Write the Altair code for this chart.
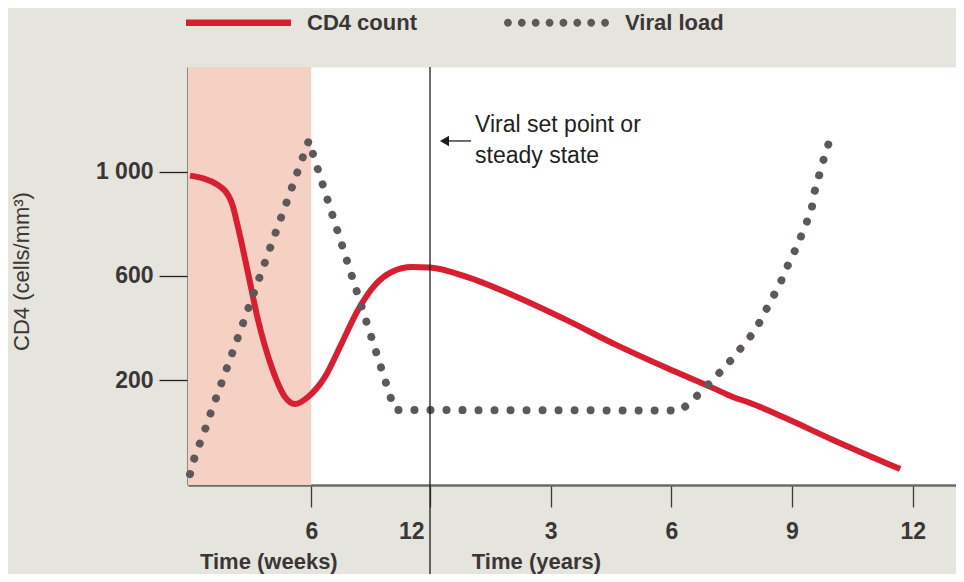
import altair as alt
import pandas as pd

# ---------------- data ----------------
# CD4 count: first phase in weeks, later phase in years
cd4_weeks = [0.10, 1.46, 2.13, 2.43, 2.92, 3.41, 4.07, 4.72, 5.21, 5.84, 6.69, 7.54, 8.36, 9.22, 10.06, 11.08, 12.0]
cd4_weeks_val = [985, 949, 880, 788, 611, 430, 250, 135, 108, 135, 212, 342, 469, 565, 615, 634, 632]
cd4_years = [0.91, 2.16, 3.40, 4.64, 5.89, 7.04, 7.53, 7.96, 8.78, 10.02, 11.69]
cd4_years_val = [596, 519, 430, 334, 246, 169, 135, 112, 58, -30, -142]

# Viral load (drawn on the same illustrative scale)
viral_weeks = [0.10, 0.31, 0.58, 0.86, 1.12, 5.88, 6.10, 9.79, 10.04, 10.25]
viral_weeks_val = [-161, -100, -42, 17, 77, 1120, 1064, 185, 126, 85]
viral_years = [6.23, 6.53, 6.84, 7.13, 7.42, 7.69, 7.96, 8.18, 8.36, 8.55, 8.73, 8.89,
               9.06, 9.22, 9.37, 9.49, 9.55, 9.65, 9.75, 9.86, 9.97]
viral_years_val = [83, 123, 170, 217, 265, 315, 366, 418, 471, 526, 581, 638,
                   693, 750, 808, 859, 917, 972, 1029, 1084, 1137]

series_names = ["CD4 count", "Viral load"]
tick_weeks = [6, 12]
tick_years = [3, 6, 9, 12]
y_ticks = [200, 600, 1000]
shade_weeks = [0, 6]          # acute infection phase
set_point_weeks = 12          # vertical marker
annot_text = "Viral set point or\nsteady state"
annot_years = 1.12
annot_val = 1152
arrow_years = [0.30, 1.02]
arrow_val = 1118
axis_titles = ["Time (weeks)", "Time (years)"]
axis_title_pos = [0.58, 12 + 1.04]   # weeks / (12 + years)

# ---------------- styling ----------------
BG = "#e6e5dd"
PINK = "#f5d1c4"
RED = "#d71f31"
DOT = "#5e5858"
TXT = "#3b3636"
FONT = "Liberation Sans"

# legend symbols (unit box -1..1, scaled by the legend symbol size)
SYM_LINE = "M-1,-0.06H1V0.06H-1Z"
_r = 0.075
_dots = []
for i in range(8):
    cx = -1 + _r + i * (2 - 2 * _r) / 7
    _dots.append(f"M{cx - _r:.4f},0a{_r},{_r} 0 1,0 {2 * _r:.4f},0a{_r},{_r} 0 1,0 {-2 * _r:.4f},0Z")
SYM_DOTS = "".join(_dots)


def to_t_years(years):
    return [12 + y for y in years]


cd4 = pd.DataFrame({
    "t": cd4_weeks + to_t_years(cd4_years),
    "v": cd4_weeks_val + cd4_years_val,
})
viral = pd.DataFrame({
    "t": viral_weeks + to_t_years(viral_years),
    "v": viral_weeks_val + viral_years_val,
})
legend_df = pd.DataFrame({"series": series_names})
shade = pd.DataFrame({"start": [shade_weeks[0]], "end": [shade_weeks[1]]})
vline = pd.DataFrame({"t": [set_point_weeks]})
arrow = pd.DataFrame({"t": [12 + arrow_years[0]], "t2": [12 + arrow_years[1]], "v": [arrow_val]})
arrowhead = pd.DataFrame({"t": [12 + arrow_years[0] + 0.06], "v": [arrow_val]})
annot = pd.DataFrame({"t": [12 + annot_years], "v": [annot_val], "label": [annot_text]})
xtitles = pd.DataFrame({"t": axis_title_pos, "label": axis_titles})

x_values = tick_weeks + to_t_years(tick_years)

x_scale = alt.Scale(type="linear", domain=[0, 6, 12, 25.077], range=[0, 123.3, 242, 768],
                    nice=False, zero=False)
y_scale = alt.Scale(domain=[-203, 1402], nice=False, zero=False)

x_axis = alt.Axis(
    values=x_values,
    labelExpr="datum.value <= 12 ? datum.value : datum.value - 12",
    title=None,
    grid=False,
    domainColor="#6e6a66", domainWidth=2.5,
    tickColor="#3d3939", tickWidth=1.3, tickSize=22,
    labelPadding=13, labelFontSize=23, labelFontWeight="bold", labelColor=TXT, labelFont=FONT,
    labelAlign={"condition": {"test": "datum.value == 12", "value": "right"}, "value": "center"},
    labelOffset={"condition": {"test": "datum.value == 12", "value": -6}, "value": 0},
    labelFlush=False, labelOverlap=False,
)
y_axis = alt.Axis(
    values=y_ticks,
    labelExpr="replace(format(datum.value, ','), ',', ' ')",
    title="CD4 (cells/mm³)",
    grid=False,
    domainColor="#6e6a66", domainWidth=2.5,
    tickColor="#231f20", tickWidth=1.3, tickSize=29,
    labelPadding=6, labelFontSize=23, labelFontWeight="bold", labelColor=TXT, labelFont=FONT,
    titleFont=FONT, titleFontSize=22, titleFontWeight="normal", titleColor=TXT,
    titleX=-167, titleY=204, titleBaseline="middle", titleAngle=-90,
)

X = alt.X("t:Q", scale=x_scale, axis=x_axis)
Y = alt.Y("v:Q", scale=y_scale, axis=y_axis)

legend = alt.Legend(
    orient="none", legendX=-2, legendY=-97, direction="horizontal", title=None,
    symbolSize=11025, symbolStrokeWidth=0,
    labelFont=FONT, labelFontSize=22, labelFontWeight="bold", labelColor=TXT,
    labelOffset=16, columnPadding=87,
)

shade_layer = alt.Chart(shade).mark_rect(color=PINK).encode(
    x=alt.X("start:Q", scale=x_scale, axis=x_axis), x2="end:Q",
    y=alt.value(0), y2=alt.value(418),
)

cd4_layer = alt.Chart(cd4).mark_line(
    color=RED, strokeWidth=6, interpolate="monotone", strokeCap="butt",
).encode(x=X, y=Y)

viral_layer = alt.Chart(viral).mark_line(
    color=DOT, strokeWidth=8, interpolate="linear", strokeCap="round", strokeDash=[0.01, 16],
).encode(x=X, y=Y)

# legend-only layer (points placed off canvas; only their legend is shown)
legend_layer = alt.Chart(legend_df).mark_point(filled=True, opacity=1, strokeWidth=0).encode(
    x=alt.value(-600), y=alt.value(-600),
    color=alt.Color("series:N", scale=alt.Scale(domain=series_names, range=[RED, DOT]), legend=legend),
    shape=alt.Shape("series:N", scale=alt.Scale(domain=series_names, range=[SYM_LINE, SYM_DOTS]),
                    legend=legend),
)

vline_layer = alt.Chart(vline).mark_rule(color="#1e1b1c", strokeWidth=1.3).encode(
    x=X, y=alt.value(0), y2=alt.value(520),
)

arrow_layer = alt.Chart(arrow).mark_rule(color="#1e1b1c", strokeWidth=1.3).encode(
    x=X, x2="t2:Q", y=Y,
)
arrowhead_layer = alt.Chart(arrowhead).mark_point(
    shape="triangle-left", filled=True, color="#1e1b1c", size=110, opacity=1,
).encode(x=X, y=Y)

annot_layer = alt.Chart(annot).mark_text(
    align="left", baseline="alphabetic", font=FONT, fontSize=23, color="#231f20",
    lineBreak="\n", lineHeight=31,
).encode(x=X, y=Y, text="label:N")

xtitle_layer = alt.Chart(xtitles).mark_text(
    align="left", baseline="alphabetic", font=FONT, fontSize=22, fontWeight="bold", color=TXT,
).encode(x=X, y=alt.value(502), text="label:N")

chart = alt.layer(
    shade_layer, cd4_layer, viral_layer, legend_layer, vline_layer,
    arrow_layer, arrowhead_layer, annot_layer, xtitle_layer,
).properties(
    width=768, height=418,
    autosize=alt.AutoSizeParams(type="none"),
    padding={"left": 180, "top": 59, "right": 0, "bottom": 89},
    background=BG,
).configure_view(fill="white", stroke="transparent")

chart.save("out.html", embed_options={"renderer": "svg", "actions": False})
